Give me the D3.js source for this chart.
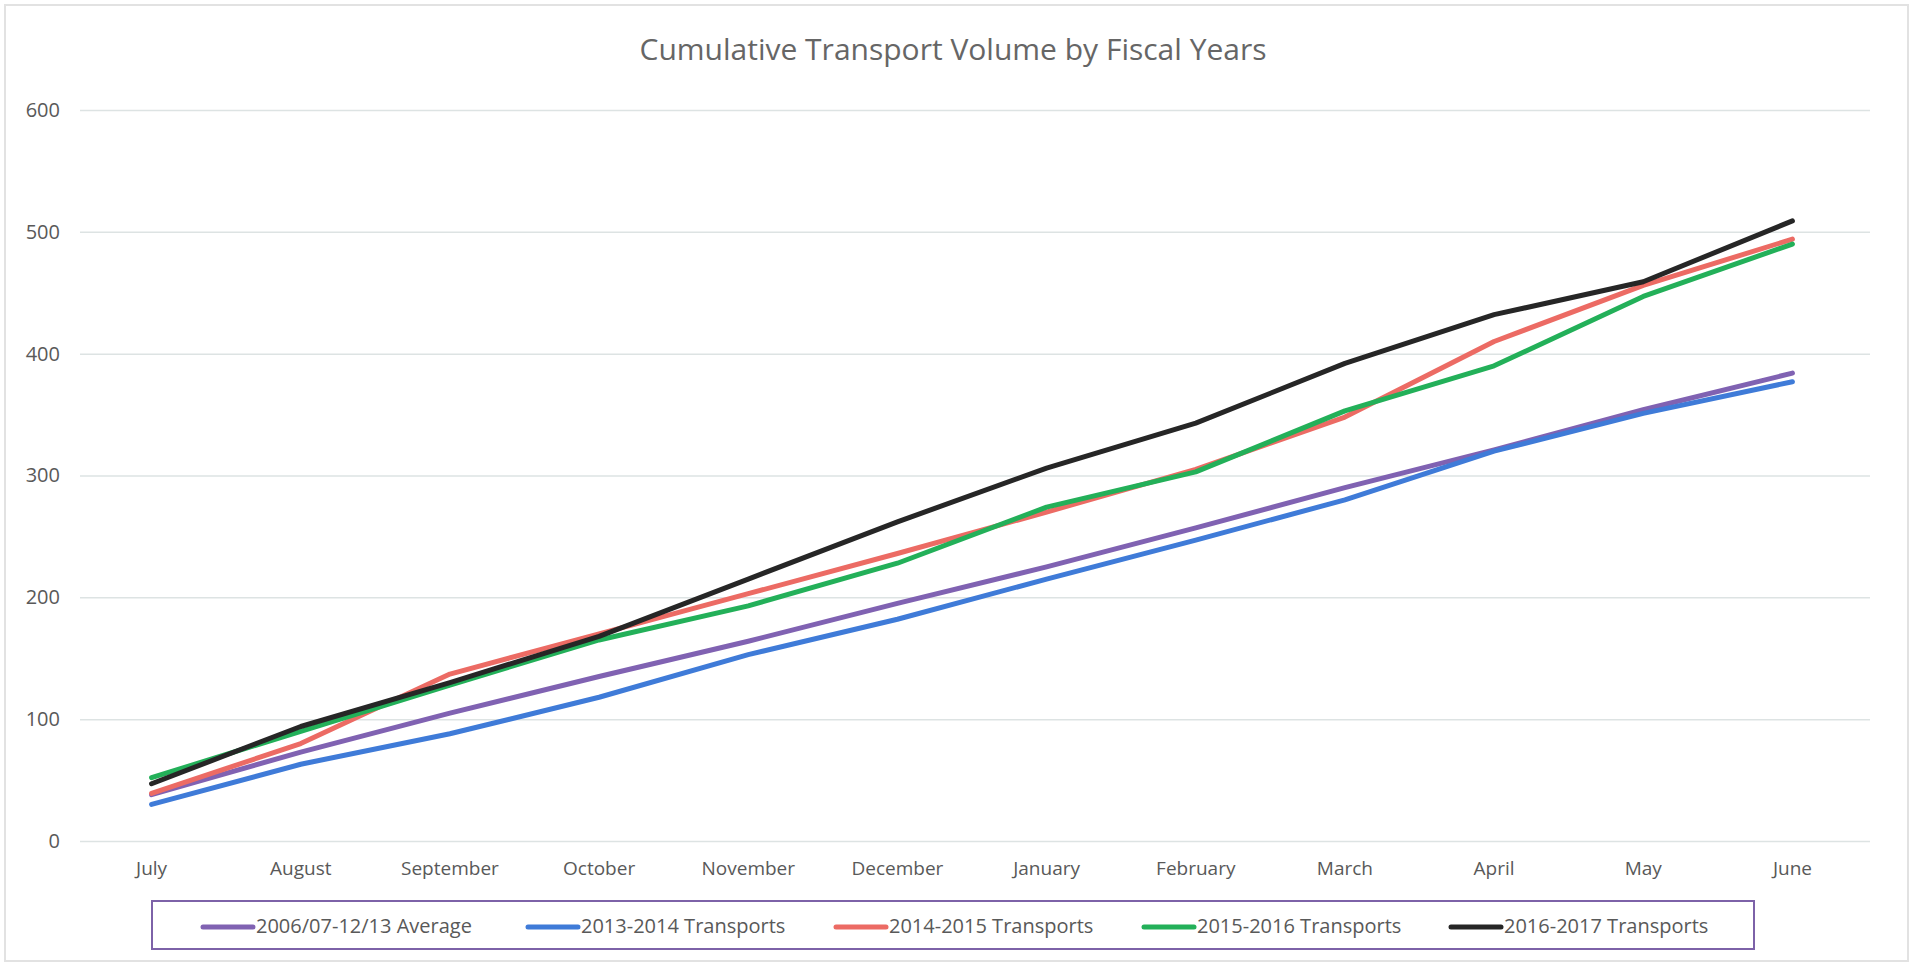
<!DOCTYPE html>
<html>
<head>
	<title>Cumulative Transport Volume by Fiscal Years</title>
	<script src="https://cdnjs.cloudflare.com/ajax/libs/d3/7.8.5/d3.min.js"></script>
	<style>
		body { margin: 0; background: #fff; }
		text { font-family: "Open Sans", sans-serif; fill: #595959; }
	</style>
</head>
<body>
	<svg id="chart" width="1917" height="967"></svg>
	<script type="text/javascript">
		// months of the fiscal year, July to June
		const months = ["July", "August", "September", "October", "November", "December",
			"January", "February", "March", "April", "May", "June"];
		const yTicks = [0, 100, 200, 300, 400, 500, 600];

		// cumulative counts
		const avg0613 = [38, 73, 105, 135, 164, 195, 225, 257, 290, 321, 354, 384];
		const fy1314 = [30, 63, 88, 118, 153, 182, 215, 247, 280, 320, 351, 377];
		const fy1415 = [39, 80, 137, 170, 203, 236, 270, 305, 348, 410, 456, 494];
		const fy1516 = [52, 90, 128, 165, 193, 228, 274, 303, 353, 390, 447, 490];
		const fy1617 = [47, 94, 130, 168, 215, 262, 306, 343, 392, 432, 459, 509];

		const seriesNames = ["2006/07-12/13 Average", "2013-2014 Transports", "2014-2015 Transports",
			"2015-2016 Transports", "2016-2017 Transports"];
		const seriesValues = [avg0613, fy1314, fy1415, fy1516, fy1617];
		const seriesColors = ["#8062b2", "#3f7bd8", "#ec6b64", "#23b059", "#262626"];

		const svg = d3.select("#chart");
		const plotL = 80, plotR = 1870, plotT = 110, plotB = 841;

		// outer chart border
		svg.append("rect")
			.attr("x", 5).attr("y", 5).attr("width", 1903).attr("height", 956)
			.attr("fill", "#fff").attr("stroke", "#e2e2e2").attr("stroke-width", 2);

		svg.append("text")
			.attr("x", 953).attr("y", 52)
			.attr("text-anchor", "middle").attr("dominant-baseline", "middle")
			.style("font-size", "30px").style("fill", "#666")
			.text("Cumulative Transport Volume by Fiscal Years");

		const x = d3.scaleBand().domain(months).range([plotL, plotR]).padding(0);
		const y = d3.scaleLinear().domain([0, 600]).range([plotB, plotT]);
		const cx = m => x(m) + x.bandwidth() / 2 - 3;

		// gridlines + y labels
		const yAxis = d3.axisLeft(y).tickValues(yTicks).tickSize(-(plotR - plotL)).tickPadding(20);
		const gy = svg.append("g").attr("transform", "translate(" + plotL + ",0)").call(yAxis);
		gy.select(".domain").remove();
		gy.selectAll(".tick line").attr("stroke", "#dde3e3").attr("stroke-width", 1.5);
		gy.selectAll(".tick text").style("font-size", "20px").attr("fill", "#595959");

		// x labels
		const xAxis = d3.axisBottom(x).tickSize(0).tickPadding(21);
		const gx = svg.append("g").attr("transform", "translate(-3," + plotB + ")").call(xAxis);
		gx.select(".domain").remove();
		gx.selectAll(".tick text").style("font-size", "19px").attr("fill", "#595959");

		const line = d3.line()
			.x((d, i) => cx(months[i]))
			.y(d => y(d));

		svg.append("g").selectAll("path")
			.data(seriesValues)
			.join("path")
				.attr("d", line)
				.attr("fill", "none")
				.attr("stroke", (d, i) => seriesColors[i])
				.attr("stroke-width", 5)
				.attr("stroke-linecap", "round")
				.attr("stroke-linejoin", "round");

		// legend
		svg.append("rect")
			.attr("x", 152).attr("y", 901).attr("width", 1602).attr("height", 48)
			.attr("fill", "none").attr("stroke", "#7d62a8").attr("stroke-width", 2);

		const legendX = [203, 528, 836, 1144, 1451];
		const items = svg.append("g").selectAll("g")
			.data(seriesNames)
			.join("g")
				.attr("transform", (d, i) => "translate(" + legendX[i] + ",927)");
		items.append("line")
			.attr("x1", 0).attr("x2", 50)
			.attr("stroke", (d, i) => seriesColors[i])
			.attr("stroke-width", 5).attr("stroke-linecap", "round");
		items.append("text")
			.attr("x", 53).attr("y", 1).attr("dominant-baseline", "middle")
			.style("font-size", "20px")
			.text(d => d);
	</script>
</body>
</html>
